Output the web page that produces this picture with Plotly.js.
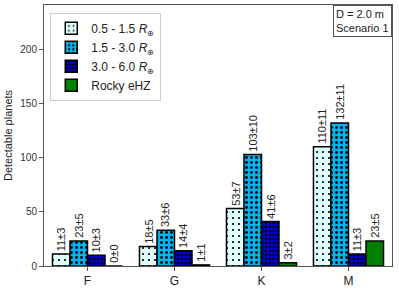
<!DOCTYPE html>
<html>
<head>
<meta charset="utf-8">
<script src="https://cdn.plot.ly/plotly-3.0.1.min.js"></script>
<style>html,body{margin:0;padding:0;background:#fff;}#chart{width:399px;height:290px;}</style>
</head>
<body>
<div id="chart"></div>
<script>
const categories = ["F", "G", "K", "M"];
const seriesNames = ["0.5 - 1.5 <i>R</i><sub>⊕</sub>", "1.5 - 3.0 <i>R</i><sub>⊕</sub>", "3.0 - 6.0 <i>R</i><sub>⊕</sub>", "Rocky eHZ"];
const small = [11, 18, 53, 110];
const smallErr = [3, 5, 7, 11];
const medium = [23, 33, 103, 132];
const mediumErr = [5, 6, 10, 11];
const large = [10, 14, 41, 11];
const largeErr = [3, 4, 6, 3];
const rocky = [0, 1, 3, 23];
const rockyErr = [0, 1, 2, 5];
const yTicks = [0, 50, 100, 150, 200];

const values = [small, medium, large, rocky];
const errors = [smallErr, mediumErr, largeErr, rockyErr];
const fills = ["#e0ffff", "#00b4f0", "#0000cc", "#008000"];
const patterns = [
  {shape: ".", fgcolor: "#000", bgcolor: "#e0ffff", size: 6, solidity: 0.1, fillmode: "replace"},
  {shape: ".", fgcolor: "#000", bgcolor: "#00b4f0", size: 5, solidity: 0.25, fillmode: "replace"},
  {shape: ".", fgcolor: "#000", bgcolor: "#0000cc", size: 4, solidity: 0.35, fillmode: "replace"},
  {shape: ""}
];

const W = 399, H = 290, ML = 44, MR = 7, MT = 5, MB = 24;
const bargap = 0.195;
const nSeries = values.length;
const unitPx = (W - ML - MR) / categories.length;
const barPx = unitPx * (1 - bargap) / nSeries;

const traces = values.map((v, i) => ({
  type: "bar",
  name: seriesNames[i],
  x: categories,
  y: v,
  marker: {color: fills[i], line: {color: "#000", width: 1.5}, pattern: patterns[i]},
  hoverinfo: "skip"
}));

const annotations = [];
values.forEach((v, i) => {
  v.forEach((val, j) => {
    annotations.push({
      xref: "x", yref: "y", x: categories[j], y: val,
      xanchor: "center", yanchor: "bottom",
      xshift: (i - (nSeries - 1) / 2) * barPx, yshift: 1,
      text: val + "±" + errors[i][j], textangle: -90, showarrow: false,
      font: {family: "Liberation Sans, Arial, sans-serif", size: 11, color: "#222"}
    });
  });
});
annotations.push({
  xref: "paper", yref: "paper", x: 1, y: 1, xanchor: "right", yanchor: "top",
  text: "D = 2.0 m<br>Scenario 1", align: "left", showarrow: false,
  font: {size: 11, color: "#222"}, bordercolor: "#555", borderwidth: 1, borderpad: 2,
  bgcolor: "#fff"
});

const layout = {
  width: W, height: H,
  margin: {l: ML, r: MR, t: MT, b: MB},
  paper_bgcolor: "#fff", plot_bgcolor: "#fff",
  barmode: "group",
  bargap: bargap, bargroupgap: 0,
  font: {family: "Liberation Sans, Arial, sans-serif", color: "#222"},
  showlegend: true,
  legend: {x: 0.018, y: 0.97, xanchor: "left", yanchor: "top",
    bgcolor: "rgba(255,255,255,0.9)", bordercolor: "#ccc", borderwidth: 1,
    font: {size: 12, color: "#222"}, traceorder: "normal", tracegroupgap: 0},
  xaxis: {type: "category", range: [-0.5, 3.5], showline: true, mirror: true,
    linecolor: "#555", linewidth: 1, ticks: "outside", ticklen: 4, tickcolor: "#555",
    tickfont: {size: 12, color: "#222"}, showgrid: false, zeroline: false},
  yaxis: {range: [0, 241], tickvals: yTicks, showline: true, mirror: true,
    linecolor: "#555", linewidth: 1, ticks: "outside", ticklen: 4, tickcolor: "#555",
    tickfont: {size: 10, color: "#333"}, showgrid: false, zeroline: false,
    title: {text: "Detectable planets", font: {size: 11, color: "#222"}, standoff: 5}},
  annotations: annotations
};

Plotly.newPlot("chart", traces, layout, {displayModeBar: false, staticPlot: true});
</script>
</body>
</html>
